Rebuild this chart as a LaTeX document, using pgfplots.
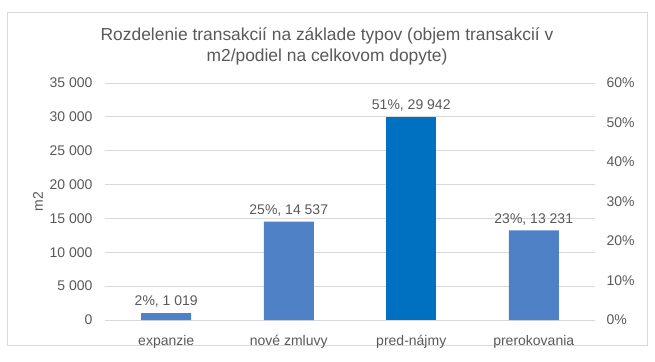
\documentclass[border=0pt]{standalone}
\usepackage{pgfplots}
\pgfplotsset{compat=1.18}
\usepackage{pgfplotstable}
\usepackage{fontspec}
\setmainfont{Liberation Sans}
\definecolor{barblue}{HTML}{4F81C6}
\definecolor{bardark}{HTML}{0070C0}
\definecolor{gridc}{HTML}{D9D9D9}
\definecolor{txt}{HTML}{595959}
\pgfplotstableread{
x y lab
0 1019 {2\%, 1 019}
1 14537 {25\%, 14 537}
3 13231 {23\%, 13 231}
}\light
\pgfplotstableread{
x y lab
2 29942 {51\%, 29 942}
}\dark
\begin{document}
\begin{tikzpicture}[x=1pt,y=1pt]
\useasboundingbox (-105,-41) rectangle (550,320);
\draw[gridc, line width=0.8pt] (-98,-25) rectangle (542,308);
\begin{axis}[
  at={(0,0)}, anchor=south west,
  scale only axis, width=490pt, height=237pt,
  xmin=-0.5, xmax=3.5, ymin=0, ymax=35000,
  scaled y ticks=false,
  axis line style={draw=none},
  tick style={draw=none},
  ymajorgrids, grid style={gridc, line width=0.8pt},
  ytick={0,5000,10000,15000,20000,25000,30000,35000},
  yticklabels={0,5 000,10 000,15 000,20 000,25 000,30 000,35 000},
  xtick={0,1,2,3},
  xticklabels={expanzie,nové zmluvy,pred-nájmy,prerokovania},
  ticklabel style={font=\fontsize{14}{16}\selectfont, text=txt},
  yticklabel style={anchor=east, xshift=-9pt},
  xticklabel style={anchor=north, text height=10pt, text depth=3pt, yshift=-8pt},
  ylabel={m2},
  every axis y label/.style={at={(-67pt,118.5pt)}, rotate=90, anchor=center, font=\fontsize{14}{16}\selectfont, text=txt},
  ybar, bar width=50pt, bar shift=0pt,
  nodes near coords, point meta=explicit symbolic,
  nodes near coords style={font=\fontsize{14}{16}\selectfont, text=txt, anchor=south, yshift=2pt},
  title={Rozdelenie transakcií na základe typov (objem transakcií v\\m2/podiel na celkovom dopyte)},
  title style={font=\fontsize{17.4}{21}\selectfont, text=txt, align=center, at={(0.5,1)}, anchor=south, xshift=-23pt, yshift=8pt},
]
\addplot[fill=barblue, draw=none] table[x=x, y=y, meta=lab] {\light};
\addplot[fill=bardark, draw=none] table[x=x, y=y, meta=lab] {\dark};
\end{axis}
\begin{axis}[
  at={(0,0)}, anchor=south west,
  scale only axis, width=490pt, height=237pt,
  xmin=-0.5, xmax=3.5, ymin=0, ymax=60,
  axis x line=none,
  axis y line*=right,
  axis line style={draw=none},
  tick style={draw=none},
  ytick={0,10,20,30,40,50,60},
  yticklabels={0\%,10\%,20\%,30\%,40\%,50\%,60\%},
  yticklabel style={font=\fontsize{14}{16}\selectfont, text=txt, anchor=west, xshift=8pt},
]
\addplot[draw=none] coordinates {(0,0)};
\end{axis}
\end{tikzpicture}
\end{document}
